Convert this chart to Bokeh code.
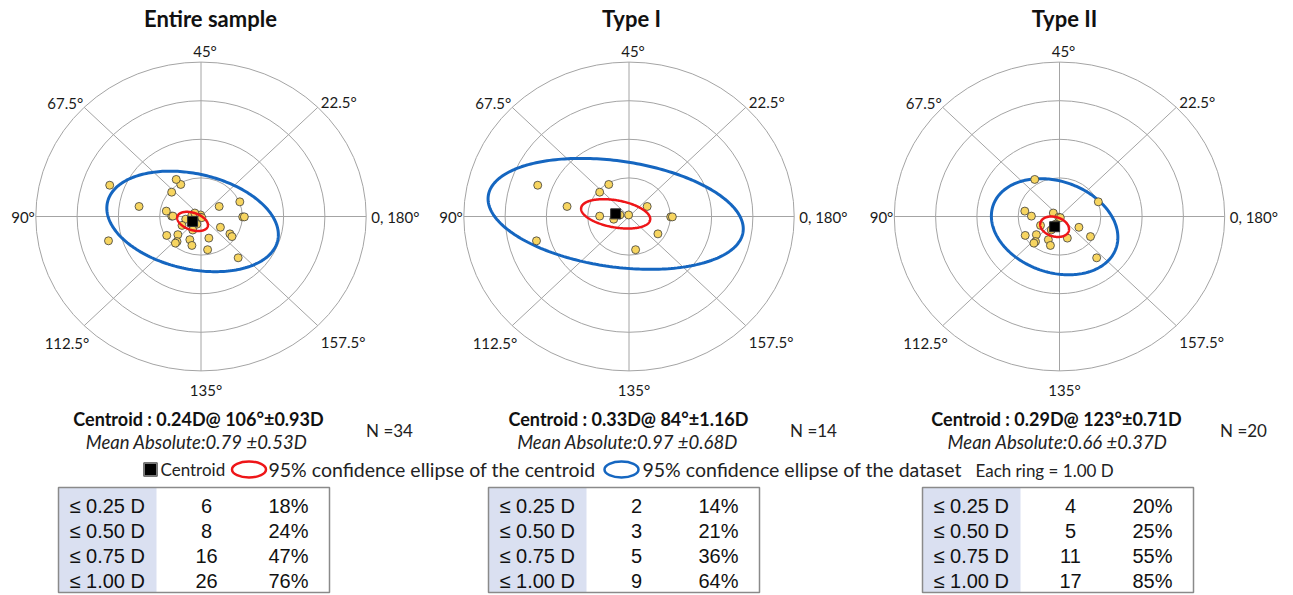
import numpy as np
from bokeh.plotting import figure
from bokeh.layouts import column, row
from bokeh.models import Range1d
from bokeh.core.properties import value
from bokeh.embed import file_html
from bokeh.resources import INLINE

# ---------------- data ----------------
titles = ["Entire sample", "Type I", "Type II"]

# double-angle vector components (D) of each eye
type1_x = [-2.21, -0.49, -0.71, -1.50, -0.71, -0.37, -0.22, -0.01, 0.44, 1.01, 1.05, 0.70, 0.16, -2.24]
type1_y = [0.81, 0.83, 0.63, 0.26, 0.01, -0.07, 0.04, 0.04, 0.26, -0.01, -0.01, -0.45, -0.86, -0.63]
type2_x = [-0.60, 0.94, -0.84, -0.68, -0.15, -0.02, 0.02, -0.46, 0.47, 0.19, 0.75, -0.83,
           -0.56, -0.58, -0.62, -0.27, -0.22, 0.90, -0.10, -0.20]
type2_y = [0.96, 0.38, 0.14, 0.01, 0.09, -0.02, -0.03, -0.23, -0.28, -0.56, -0.52, -0.49,
           -0.47, -0.65, -0.69, -0.60, -0.75, -1.07, -0.20, -0.35]
entire_x = type1_x + type2_x
entire_y = type1_y + type2_y

centroid_mag = [0.24, 0.33, 0.29]
centroid_axis = [106, 84, 123]
centroid_sd = [0.93, 1.16, 0.71]
mean_abs = [0.79, 0.97, 0.66]
mean_abs_sd = [0.53, 0.68, 0.37]
n_eyes = [34, 14, 20]

# 95% confidence ellipses (semi-axes in D, tilt in degrees of the double-angle plane)
data_ell_a = [2.12, 3.12, 1.59]
data_ell_b = [1.23, 1.37, 1.17]
data_ell_tilt = [-14.3, -8.9, -23.4]
cent_ell_a = [0.39, 0.85, 0.36]
cent_ell_b = [0.22, 0.35, 0.25]
cent_ell_tilt = [-21.0, -11.0, -20.0]

ring_values = [1, 2, 3, 4]
meridians = [0, 22.5, 45, 67.5, 90, 112.5, 135, 157.5]
meridian_labels = ["0, 180°", "22.5°", "45°", "67.5°", "90°", "112.5°", "135°", "157.5°"]

thresholds = ["≤ 0.25 D", "≤ 0.50 D", "≤ 0.75 D", "≤ 1.00 D"]
counts = [[6, 8, 16, 26], [2, 3, 5, 9], [4, 5, 11, 17]]
percents = [[18, 24, 47, 76], [14, 21, 36, 64], [20, 25, 55, 85]]

# ---------------- style / layout ----------------
FONT = "Lato"
GRID = "#a4a4a4"
BLUE = "#1566c0"
RED = "#ee1518"
DOT = "#f7d560"
KX, KY = 41.3, 38.6          # px per dioptre
TOP_H = 451
CY = 216                     # local px of polar centre
widths = [429, 429, 434]
lefts = [0, 429, 858]        # page x of each figure
cxs = [200.5, 199.5, 201.0]  # local px of polar centre
title_px = [210, 631, 1064]
cent_txt_px = [198, 628, 1056]
mean_txt_px = [196, 627, 1057]
n_txt_px = [389, 813, 1243]

lab_align = ["left", "left", "center", "right", "right", "right", "center", "left"]
lab_base = ["middle", "middle", "bottom", "middle", "middle", "middle", "top", "middle"]
lab_xoff = [5, 3, 4, -1, -1, 5, 5, 3]
lab_yoff = [0, -5, -2, -4, 0, 17, 10, 16]

pts_x = [entire_x, type1_x, type2_x]
pts_y = [entire_y, type1_y, type2_y]


def ellipse_xy(cx, cy, a, b, tilt):
    t = np.linspace(0, 2 * np.pi, 240)
    ph = np.radians(tilt)
    ex = cx + a * np.cos(t) * np.cos(ph) - b * np.sin(t) * np.sin(ph)
    ey = cy + a * np.cos(t) * np.sin(ph) + b * np.sin(t) * np.cos(ph)
    return ex, ey


tops = []
for i in range(3):
    W, cx = widths[i], cxs[i]
    p = figure(width=W, height=TOP_H, output_backend="svg", toolbar_location=None,
               x_range=Range1d(-cx / KX, (W - cx) / KX),
               y_range=Range1d(-(TOP_H - CY) / KY, CY / KY),
               x_axis_type=None, y_axis_type=None, min_border=0,
               outline_line_color=None, background_fill_color="white")
    p.xgrid.visible = False
    p.ygrid.visible = False

    def tx(page_x, i=i):
        return (page_x - lefts[i] - cxs[i]) / KX

    def ty(page_y):
        return (CY - page_y) / KY

    # rings and meridian spokes
    p.ellipse(x=[0] * 4, y=[0] * 4, width=[2 * r for r in ring_values],
              height=[2 * r for r in ring_values], fill_alpha=0,
              line_color=GRID, line_width=1)
    rmax = max(ring_values)
    dbl = np.radians(2 * np.array(meridians))
    p.segment(x0=[0] * 8, y0=[0] * 8, x1=list(rmax * np.cos(dbl)), y1=list(rmax * np.sin(dbl)),
              line_color=GRID, line_width=1)
    for j in range(8):
        p.text(x=[rmax * np.cos(dbl[j])], y=[rmax * np.sin(dbl[j])], text=[meridian_labels[j]],
               text_font=value(FONT), text_font_size=value("15px"), text_color="#1a1a1a",
               text_align=lab_align[j], text_baseline=lab_base[j],
               x_offset=lab_xoff[j], y_offset=lab_yoff[j])

    # centroid position
    ang = np.radians(2 * centroid_axis[i])
    ccx = centroid_mag[i] * np.cos(ang)
    ccy = centroid_mag[i] * np.sin(ang)

    ex, ey = ellipse_xy(ccx, ccy, data_ell_a[i], data_ell_b[i], data_ell_tilt[i])
    p.line(ex, ey, line_color=BLUE, line_width=3)

    p.scatter(pts_x[i], pts_y[i], size=8, fill_color=DOT, line_color="#3c3c3c", line_width=0.8)

    ex, ey = ellipse_xy(ccx, ccy, cent_ell_a[i], cent_ell_b[i], cent_ell_tilt[i])
    p.line(ex, ey, line_color=RED, line_width=2.5)

    p.scatter([ccx], [ccy], marker="square", size=10, fill_color="black", line_color="#333333")

    # title & stats
    p.text(x=[tx(title_px[i])], y=[ty(18)], text=[titles[i]], text_font=value(FONT),
           text_font_size=value("22px"), text_font_style="bold", text_align="center",
           text_baseline="middle", text_color="#111111")
    ctext = f"Centroid : {centroid_mag[i]:.2f}D@ {centroid_axis[i]}°±{centroid_sd[i]:.2f}D"
    p.text(x=[tx(cent_txt_px[i])], y=[ty(418)], text=[ctext], text_font=value(FONT),
           text_font_size=value("18px"), text_font_style="bold", text_align="center",
           text_baseline="middle", text_color="#111111")
    mtext = f"Mean Absolute:{mean_abs[i]:.2f} ±{mean_abs_sd[i]:.2f}D"
    p.text(x=[tx(mean_txt_px[i])], y=[ty(441)], text=[mtext], text_font=value(FONT),
           text_font_size=value("18.5px"), text_font_style="italic", text_align="center",
           text_baseline="middle", text_color="#222222")
    p.text(x=[tx(n_txt_px[i])], y=[ty(430)], text=[f"N ={n_eyes[i]}"], text_font=value(FONT),
           text_font_size=value("17px"), text_align="center",
           text_baseline="middle", text_color="#222222")
    tops.append(p)

# ---------------- bottom: legend + tables ----------------
BH = 143
pb = figure(width=1292, height=BH, output_backend="svg", toolbar_location=None,
            x_range=Range1d(0, 1292), y_range=Range1d(BH, 0),
            x_axis_type=None, y_axis_type=None, min_border=0,
            outline_line_color=None, background_fill_color="white")
pb.xgrid.visible = False
pb.ygrid.visible = False

LY = 18
pb.scatter([150], [LY], marker="square", size=13, fill_color="black", line_color="#777777", line_width=2)
pb.text(x=[160], y=[LY], text=["Centroid"], text_font=value(FONT), text_font_size=value("17px"),
        text_align="left", text_baseline="middle", text_color="#222222")
pb.ellipse(x=[248.5], y=[LY], width=[34], height=[16], fill_alpha=0, line_color=RED, line_width=2.5)
pb.text(x=[268], y=[LY], text=["95% confidence ellipse of  the centroid"], text_font=value(FONT),
        text_font_size=value("19.5px"), text_align="left", text_baseline="middle", text_color="#222222")
pb.ellipse(x=[621], y=[LY], width=[34], height=[16], fill_alpha=0, line_color=BLUE, line_width=2.5)
pb.text(x=[642], y=[LY], text=["95% confidence ellipse of the dataset"], text_font=value(FONT),
        text_font_size=value("19.5px"), text_align="left", text_baseline="middle", text_color="#222222")
pb.text(x=[975], y=[LY + 1], text=["Each ring = 1.00 D"], text_font=value(FONT),
        text_font_size=value("17px"), text_align="left", text_baseline="middle", text_color="#222222")

tab_left = [58, 488, 922]
TW, SW = 271, 98
T_TOP, T_BOT = 36, 141
row_y = [54, 79, 104, 129]
for i in range(3):
    L = tab_left[i]
    pb.quad(left=[L], right=[L + SW], top=[T_TOP], bottom=[T_BOT], fill_color="#dae0f1", line_color=None)
    pb.quad(left=[L], right=[L + TW], top=[T_TOP], bottom=[T_BOT], fill_alpha=0,
            line_color="#8a8a8a", line_width=1.5)
    pb.text(x=[L + 11] * 4, y=row_y, text=thresholds, text_font=value("Liberation Sans"),
            text_font_size=value("20px"), text_align="left", text_baseline="middle", text_color="#111111")
    pb.text(x=[L + 148] * 4, y=row_y, text=[str(c) for c in counts[i]], text_font=value("Liberation Sans"),
            text_font_size=value("20px"), text_align="center", text_baseline="middle", text_color="#111111")
    pb.text(x=[L + 250] * 4, y=row_y, text=[f"{v}%" for v in percents[i]], text_font=value("Liberation Sans"),
            text_font_size=value("20px"), text_align="right", text_baseline="middle", text_color="#111111")

layout = column(row(*tops), pb)
open("out.html", "w").write(file_html(layout, INLINE))
